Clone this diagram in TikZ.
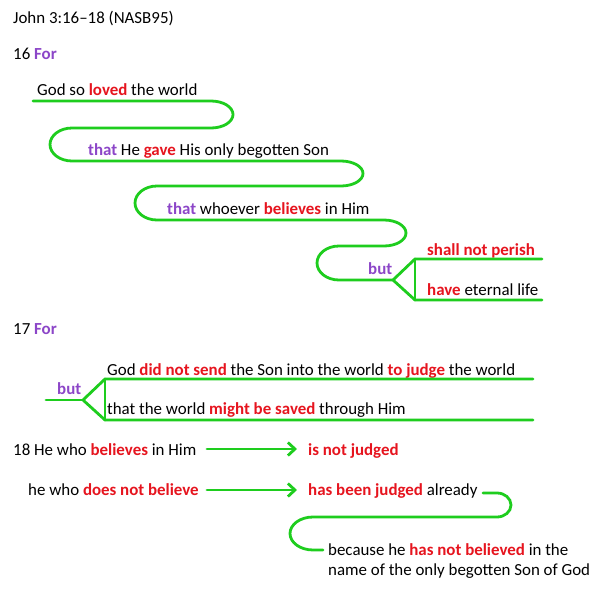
\documentclass[tikz,border=0pt]{standalone}
\usepackage{fontspec}
\setmainfont{Carlito}
\usetikzlibrary{arrows.meta}
\definecolor{vgreen}{RGB}{30,205,30}
\definecolor{vred}{RGB}{230,20,30}
\definecolor{vpurple}{RGB}{140,70,200}
\newcommand\redw[1]{{\bfseries\color{vred}#1}}
\newcommand\purw[1]{{\bfseries\color{vpurple}#1}}
\begin{document}
\begin{tikzpicture}[x=1pt,y=-1pt,
  txt/.style={anchor=base west,inner sep=0pt,font=\fontsize{16.9}{18}\selectfont},
  gline/.style={draw=vgreen,line width=2.8pt,line join=round,line cap=round},
  garrow/.style={gline,-{Straight Barb[length=7pt,width=13pt,line width=2.8pt]}}]
\useasboundingbox[fill=white] (0,0) rectangle (595,592);
% texts
\node[txt] (title) at (13,23) {John 3:16--18 (NASB95)};
\node[txt] (v16) at (13,59) {16 \purw{For}};
\node[txt] (l1) at (37,95) {God so \redw{loved} the world};
\node[txt] (l2) at (88,155) {\purw{that} He \redw{gave} His only begotten Son};
\node[txt] (l3) at (167,214) {\purw{that} whoever \redw{believes} in Him};
\node[txt] (but1) at (368,274) {\purw{but}};
\node[txt] (l4) at (427,255) {\redw{shall not perish}};
\node[txt] (l5) at (427,295) {\redw{have} eternal life};
\node[txt] (v17) at (13,334) {17 \purw{For}};
\node[txt] (but2) at (57,394) {\purw{but}};
\node[txt] (m1) at (107,375) {God \redw{did not send} the Son into the world \redw{to judge} the world};
\node[txt] (m2) at (107,414) {that the world \redw{might be saved} through Him};
\node[txt] (n1) at (13,455) {18 He who \redw{believes} in Him};
\node[txt] (n2) at (28,495) {he who \redw{does not believe}};
\node[txt] (r1) at (308,455) {\redw{is not judged}};
\node[txt] (r2) at (308,495) {\redw{has been judged} already};
\node[txt] (r3) at (328,555) {because he \redw{has not believed} in the};
\node[txt] (r4) at (328,575) {name of the only begotten Son of God};
% snake of verse 16
\coordinate (s0) at (33,101);
\coordinate (b1) at (393,280);
\draw[gline] (s0) -- (211,101) arc[start angle=-90,end angle=90,x radius=22,y radius=13.5]
  -- (72,128) arc[start angle=-90,end angle=-270,x radius=22,y radius=16.5]
  -- (341,161) arc[start angle=-90,end angle=90,x radius=22,y radius=12.5]
  -- (157,186) arc[start angle=-90,end angle=-270,x radius=22,y radius=17]
  -- (384,220) arc[start angle=-90,end angle=90,x radius=22,y radius=13]
  -- (339,246) arc[start angle=-90,end angle=-270,x radius=22,y radius=17]
  -- (b1);
\coordinate (b1u) at (415,259);
\coordinate (b1d) at (415,300);
\coordinate (e1u) at (542,259);
\coordinate (e1d) at (542,300);
\draw[gline] (b1) -- (b1u) -- (e1u);
\draw[gline] (b1) -- (b1d) -- (e1d);
\draw[gline] (b1u) -- (b1d);
% verse 17
\coordinate (t0) at (46,400);
\coordinate (b2) at (83,400);
\coordinate (b2u) at (105,379);
\coordinate (b2d) at (105,420);
\coordinate (e2u) at (533,379);
\coordinate (e2d) at (533,420);
\draw[gline] (t0) -- (b2);
\draw[gline] (b2) -- (b2u) -- (e2u);
\draw[gline] (b2) -- (b2d) -- (e2d);
\draw[gline] (b2u) -- (b2d);
% verse 18 arrows
\coordinate (a1s) at (207,449);
\coordinate (a1e) at (297,449);
\coordinate (a2s) at (207,490);
\coordinate (a2e) at (297,490);
\draw[garrow] (a1s) -- (a1e);
\draw[garrow] (a2s) -- (a2e);
% bottom loop
\coordinate (c0) at (483,493);
\coordinate (c1) at (323,550);
\draw[gline] (c0) -- (497,493) arc[start angle=-90,end angle=90,x radius=14,y radius=12]
  -- (313,517) arc[start angle=-90,end angle=-270,x radius=23,y radius=16.5] -- (c1);
\end{tikzpicture}
\end{document}
